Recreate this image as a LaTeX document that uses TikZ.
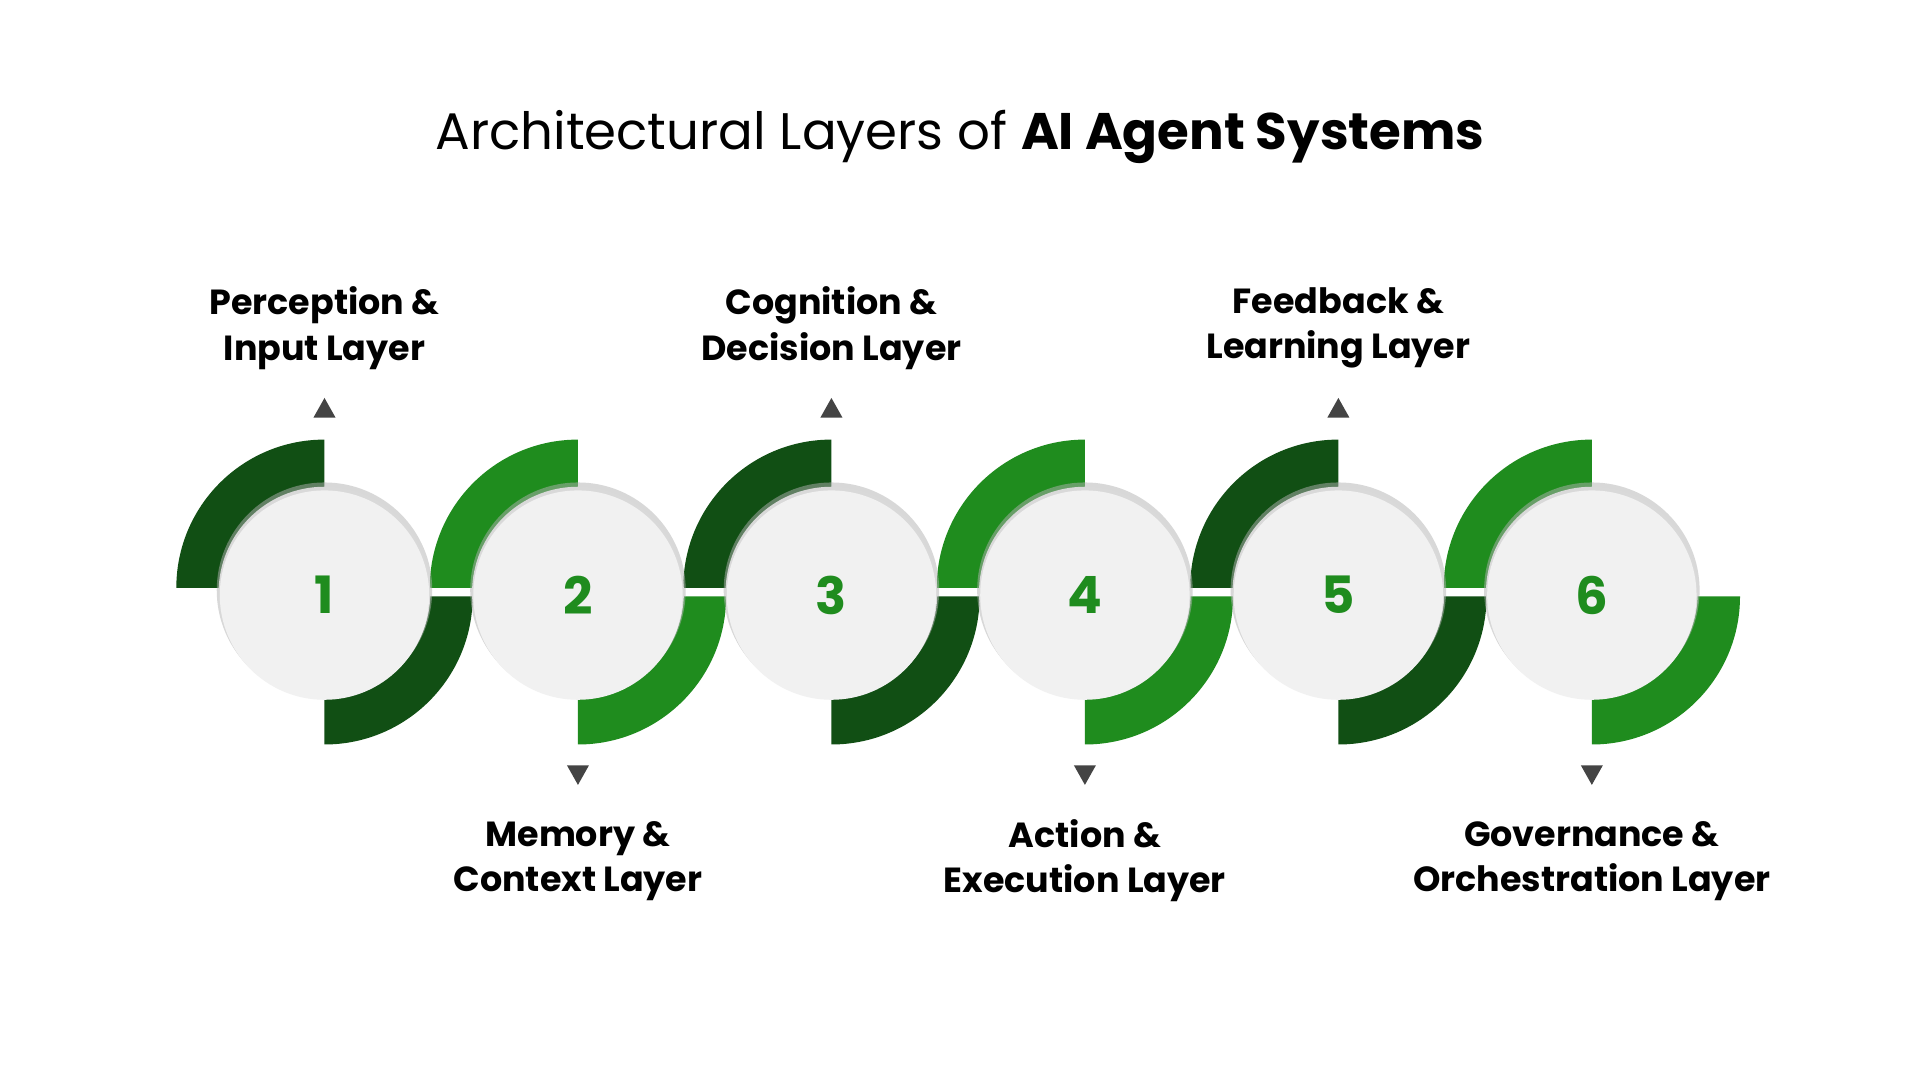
\documentclass[tikz,border=0pt]{standalone}
\usepackage{fontspec}
\setmainfont{Poppins}
\begin{document}
\begin{tikzpicture}[x=1pt,y=-1pt,
  lbl/.style={font=\fontsize{28.5}{37}\selectfont\bfseries,align=center,text=black},
  num/.style={font=\fontsize{42}{42}\selectfont\bfseries,text=bright},
  disc/.style={fill=circ},
  tri/.style={fill=tricol,draw=none}]
\definecolor{dark}{HTML}{114F14}
\definecolor{bright}{HTML}{1F8C1E}
\definecolor{circ}{HTML}{F1F1F1}
\definecolor{tricol}{HTML}{444444}
\useasboundingbox (0,0) rectangle (1568,882);
\fill[white] (0,0) rectangle (1568,882);
\node[font=\fontsize{42}{50}\selectfont] (title) at (784,112) {Architectural Layers of \textbf{AI Agent Systems}};
\foreach \i/\c in {1/dark,2/bright,3/dark,4/bright,5/dark,6/bright}{
  \pgfmathsetmacro\cx{265+207*(\i-1)}
  \fill[\c] (\cx,480) -- (\cx-121,480) arc[start angle=180,end angle=270,radius=121] -- cycle;
  \fill[\c] (\cx,487) -- (\cx+121,487) arc[start angle=0,end angle=90,radius=121] -- cycle;
}
\foreach \i/\lab in {1/{Perception \&\\Input Layer},2/{Memory \&\\Context Layer},3/{Cognition \&\\Decision Layer},4/{Action \&\\Execution Layer},5/{Feedback \&\\Learning Layer},6/{Governance \&\\Orchestration Layer}}{
  \pgfmathsetmacro\cx{265+207*(\i-1)}
  \fill[black!30,opacity=0.5] (\cx,482) circle (88);
  \fill[black!15] (\cx,484) circle (86.5);
  \node[circle,minimum size=171pt,inner sep=0pt,disc] (c\i) at (\cx,486) {};
  \node[num] (n\i) at (\cx,486) {\i};
  \ifodd\i
    \fill[tri] (\cx-9,341) -- (\cx+9,341) -- (\cx,325) -- cycle;
    \node[lbl] (l\i) at (\cx,268) {\lab};
  \else
    \fill[tri] (\cx-9,625) -- (\cx+9,625) -- (\cx,641) -- cycle;
    \node[lbl] (l\i) at (\cx,703) {\lab};
  \fi
}
\end{tikzpicture}
\end{document}
